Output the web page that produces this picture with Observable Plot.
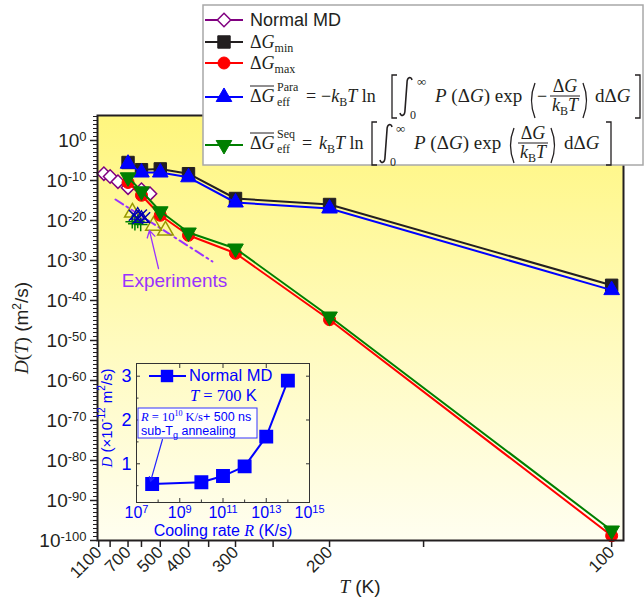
<!DOCTYPE html>
<html><head><meta charset="utf-8">
<script src="https://cdn.jsdelivr.net/npm/d3@7"></script>
<script src="https://cdn.jsdelivr.net/npm/@observablehq/plot@0.6"></script>
<style>
body{margin:0;background:#fff;}
#wrap{position:relative;width:644px;height:604px;overflow:hidden;}
#wrap svg{position:absolute;}
</style></head><body><div id="wrap"></div>
<script>
// ---------- data (log10 of D in m^2/s) ----------
const temps = [700, 600, 500, 400, 300, 200, 100];
const logD_Gmin = [-5.5, -7.3, -7.1, -8.3, -14.5, -16.0, -36.2];
const logD_Gmax = [-10.5, -13.7, -18.7, -23.7, -28.2, -44.8, -98.8];
const logD_Para = [-5.8, -8.0, -8.0, -9.2, -15.5, -17.0, -37.4];
const logD_Seq  = [-9.2, -12.7, -17.7, -23.0, -27.0, -44.0, -97.5];
const mdTemps = [1000, 900, 800, 700, 600, 550];
const logD_MD = [-8.3, -9.0, -10.3, -11.8, -12.3, -13.3];
const expTriT = [664, 532, 478];
const expTriLogD = [-18.0, -21.3, -22.5];
const expCrossT = [650, 625, 600, 580];
const expCrossLogD = [-18.7, -19.5, -18.6, -19.3];
const expPlusT = [665, 645, 625, 605];
const expPlusLogD = [-20.3, -20.8, -20.2, -21.0];
const fitT = [829, 342];
const fitLogD = [-14.75, -30.25];
const expLabel = {T: 444, logD: -35, text: "Experiments"};
const expArrow = {T1: 508, logD1: -32, T2: 553, logD2: -22.5};
const xTickT = [1100, 900, 700, 600, 500, 400, 350, 300, 250, 200, 150, 100];
const xLabelT = [1100, 700, 500, 400, 300, 200, 100];
const yMajorExp = [0, -10, -20, -30, -40, -50, -60, -70, -80, -90, -100];
// inset
const insetR = [5.3e7, 1e10, 1e11, 1e12, 1e13, 1e14];
const insetD = [0.54, 0.58, 0.72, 0.94, 1.62, 2.90];
const insetXTicks = [1e7, 1e9, 1e11, 1e13, 1e15];
const insetXMinor = [1e8, 1e10, 1e12, 1e14];
const insetYTicks = [1, 2, 3];
const insetYMinor = [0.5, 1.5, 2.5];
const insetArrow = {R1: 10 ** 8.2, D1: 1.555, R2: 10 ** 7.65, D2: 0.6};

// ---------- helpers ----------
const SANS = "Liberation Sans, Arial, sans-serif";
const SERIF = "Liberation Serif, Times New Roman, serif";
const inv = T => 1000 / T;
const pts = (Ts, logs) => Ts.map((T, i) => ({x: inv(T), y: 10 ** logs[i]}));
const triangleDown = {
  draw(ctx, size) {
    const y = -Math.sqrt(size / (Math.sqrt(3) * 3));
    ctx.moveTo(0, -y * 2);
    ctx.lineTo(-Math.sqrt(3) * y, y);
    ctx.lineTo(Math.sqrt(3) * y, y);
    ctx.closePath();
  }
};
const series = [
  {vals: pts(mdTemps, logD_MD), color: "#800080", symbol: "diamond2", r: 6, fill: "white", sw: 1.5},
  {vals: pts(temps, logD_Gmin), color: "#231f20", symbol: "square", r: 7, fill: "#231f20", sw: 1},
  {vals: pts(temps, logD_Gmax), color: "#ff0000", symbol: "circle", r: 6, fill: "#ff0000", sw: 1},
  {vals: pts(temps, logD_Para), color: "#0000ff", symbol: "triangle", r: 5.8, fill: "#0000ff", sw: 1},
  {vals: pts(temps, logD_Seq), color: "#007f00", symbol: triangleDown, r: 5.8, fill: "#007f00", sw: 1}
];

const marks = [
  Plot.frame({fill: "url(#bgGrad)"}),
  Plot.axisX({ticks: xTickT.map(inv), tickFormat: v => { const T = Math.round(1000 / v); return xLabelT.includes(T) ? String(T) : ""; },
    tickRotate: -45, tickSize: 7, tickPadding: 2, fontSize: 17, label: null, strokeWidth: 1.5, color: "#231f20"}),
  Plot.axisY({ticks: yMajorExp.map(e => 10 ** e), tickFormat: v => "10^" + Math.round(Math.log10(v)),
    tickSize: 7, tickPadding: 4, fontSize: 19, label: null, strokeWidth: 1.5, color: "#231f20"}),
  Plot.axisY({ticks: d3.range(-100, 7).map(e => 10 ** e), tickFormat: () => "", tickSize: 4, label: null, strokeWidth: 1, color: "#231f20"}),
  // experiments
  Plot.line(pts(fitT, fitLogD), {x: "x", y: "y", stroke: "#9933ff", strokeWidth: 2, strokeDasharray: "9,4,2,4"}),
  Plot.dot(pts(expTriT, expTriLogD), {x: "x", y: "y", symbol: "triangle", r: 5.8, stroke: "#999900", strokeWidth: 1.5, fill: "none"}),
  Plot.dot(pts(expPlusT, expPlusLogD), {x: "x", y: "y", symbol: "plus", r: 4.5, stroke: "#007f00", strokeWidth: 1.5}),
  Plot.dot(pts(expCrossT, expCrossLogD), {x: "x", y: "y", symbol: "times", r: 5, stroke: "#0000b0", strokeWidth: 1.5}),
  Plot.dot(pts(expCrossT.slice(1, 3), expCrossLogD.slice(0, 2)), {x: "x", y: "y", symbol: "triangle", r: 5, stroke: "#0000b0", strokeWidth: 1.3, fill: "none"}),
];
for (const s of series) {
  marks.push(Plot.line(s.vals, {x: "x", y: "y", stroke: s.color, strokeWidth: 2}));
  marks.push(Plot.dot(s.vals, {x: "x", y: "y", symbol: s.symbol, r: s.r, fill: s.fill, stroke: s.color, strokeWidth: s.sw}));
}
marks.push(
  Plot.text([expLabel], {x: d => inv(d.T), y: d => 10 ** d.logD, text: "text", fill: "#9933ff", fontSize: 19, fontFamily: SANS}),
  Plot.arrow([expArrow], {x1: d => inv(d.T1), y1: d => 10 ** d.logD1, x2: d => inv(d.T2), y2: d => 10 ** d.logD2,
    stroke: "#9933ff", strokeWidth: 1.3, headLength: 9}),
  Plot.frame({stroke: "#231f20", strokeWidth: 2})
);

const svg = Plot.plot({
  width: 644, height: 604,
  marginLeft: 97, marginRight: 21, marginTop: 115, marginBottom: 64,
  style: {background: "white", fontFamily: SANS, fontSize: "16px", color: "#231f20", overflow: "visible"},
  x: {domain: [1000 / 1127, 10.21]},
  y: {type: "log", domain: [1e-100, 10 ** 6.25]},
  marks
});
document.getElementById("wrap").appendChild(svg);

function supify(root, label, supSize) {
  d3.select(root).selectAll(`g[aria-label="${label}"] text`).each(function () {
    const s = this.textContent;
    if (!s.includes("^")) return;
    const [b, e] = s.split("^");
    this.textContent = "";
    d3.select(this).append("tspan").text(b);
    d3.select(this).append("tspan").attr("dy", "-0.45em").attr("font-size", supSize).text(e);
  });
}
supify(svg, "y-axis tick label", "13px");

// gradient background
const defs = d3.select(svg).insert("defs", ":first-child");
const grad = defs.append("linearGradient").attr("id", "bgGrad").attr("x1", 0).attr("y1", 0).attr("x2", 0).attr("y2", 1);
grad.append("stop").attr("offset", "0%").attr("stop-color", "#fff67e");
grad.append("stop").attr("offset", "55%").attr("stop-color", "#fffbc0");
grad.append("stop").attr("offset", "100%").attr("stop-color", "#fffef0");

function rich(g, x, y, segs, o = {}) {
  const t = g.append("text").attr("x", x).attr("y", y).attr("font-family", o.f || SERIF)
    .attr("font-size", o.s || 18).attr("fill", o.c || "#231f20").attr("text-anchor", o.a || "start");
  if (o.rot) t.attr("transform", `rotate(${o.rot},${x},${y})`);
  let cur = 0;
  for (const s of segs) {
    const shift = s.sub ? (s.sh || 5) : s.sup ? -(s.sh || 7) : 0;
    const sp = t.append("tspan").attr("dy", shift - cur).text(s.t);
    cur = shift;
    if (s.i) sp.attr("font-style", "italic");
    if (s.sub || s.sup) sp.attr("font-size", s.fs || 12);
    if (s.f) sp.attr("font-family", s.f);
    if (s.dx) sp.attr("dx", s.dx);
  }
  return t;
}

const root = d3.select(svg);
// axis titles
rich(root, 360, 593, [{t: "T", i: 1}, {t: " (K)", f: SANS}], {a: "middle", s: 19});
rich(root, 28, 328, [{t: "D", i: 1}, {t: "("}, {t: "T", i: 1}, {t: ")"}, {t: " (m", f: SANS}, {t: "2", sup: 1, f: SANS, fs: 12}, {t: "/s)", f: SANS}], {a: "middle", s: 19, rot: -90});

// ---------- legend ----------
const lg = root.append("g");
lg.append("rect").attr("x", 203).attr("y", 5).attr("width", 440).attr("height", 160)
  .attr("fill", "white").attr("stroke", "#a8a8a8").attr("stroke-width", 1.5);
const entries = [
  {y: 20, s: series[0]}, {y: 42, s: series[1]}, {y: 63, s: series[2]}, {y: 97, s: series[3]}, {y: 145, s: series[4]}
];
for (const e of entries) {
  lg.append("line").attr("x1", 205).attr("x2", 243).attr("y1", e.y).attr("y2", e.y).attr("stroke", e.s.color).attr("stroke-width", 2);
  const sym = typeof e.s.symbol === "string"
    ? {square: d3.symbolSquare, circle: d3.symbolCircle, triangle: d3.symbolTriangle, diamond2: d3.symbolDiamond2}[e.s.symbol]
    : e.s.symbol;
  lg.append("path").attr("d", d3.symbol(sym, Math.PI * e.s.r * e.s.r)())
    .attr("transform", `translate(224,${e.y})`).attr("fill", e.s.fill).attr("stroke", e.s.color).attr("stroke-width", e.s.sw);
}
rich(lg, 250, 26, [{t: "Normal MD"}], {f: SANS, s: 18});
rich(lg, 250, 48, [{t: "Δ"}, {t: "G", i: 1}, {t: "min", sub: 1, fs: 12, sh: 4}]);
rich(lg, 250, 69, [{t: "Δ"}, {t: "G", i: 1}, {t: "max", sub: 1, fs: 12, sh: 4}]);

function effTerm(B, supTxt) {
  lg.append("line").attr("x1", 250).attr("x2", 274).attr("y1", B - 16).attr("y2", B - 16).attr("stroke", "#231f20").attr("stroke-width", 1);
  rich(lg, 250, B, [{t: "Δ"}, {t: "G", i: 1}]);
  rich(lg, 277, B - 11, [{t: supTxt}], {s: 12});
  rich(lg, 277, B + 4, [{t: "eff"}], {s: 12});
}
function bracket(x, y0, y1, left) {
  const w = left ? 5 : -5;
  lg.append("path").attr("d", `M${x + w},${y0}H${x}V${y1}H${x + w}`).attr("fill", "none").attr("stroke", "#231f20").attr("stroke-width", 1.3);
}
function integral(x, y0, y1) {
  lg.append("path").attr("d", `M${x + 12},${y0 + 3} C${x + 11},${y0 - 1} ${x + 7},${y0} ${x + 7},${y0 + 6} L${x + 5},${y1 - 6} C${x + 5},${y1} ${x + 1},${y1 + 1} ${x},${y1 - 3}`)
    .attr("fill", "none").attr("stroke", "#231f20").attr("stroke-width", 1.6);
}
function paren(x, y0, y1, left) {
  const c = left ? x - 7 : x + 7;
  lg.append("path").attr("d", `M${x},${y0} Q${c},${(y0 + y1) / 2} ${x},${y1}`).attr("fill", "none").attr("stroke", "#231f20").attr("stroke-width", 1.3);
}
function frac(cx, barY, x0, x1) {
  rich(lg, cx, barY - 4, [{t: "Δ"}, {t: "G", i: 1}], {a: "middle"});
  lg.append("line").attr("x1", x0).attr("x2", x1).attr("y1", barY).attr("y2", barY).attr("stroke", "#231f20").attr("stroke-width", 1);
  rich(lg, cx, barY + 15, [{t: "k", i: 1}, {t: "B", sub: 1, fs: 12, sh: 4}, {t: "T", i: 1}], {a: "middle"});
}
// Para line
{
  const B = 102;
  effTerm(B, "Para");
  rich(lg, 306, B, [{t: "="}]);
  rich(lg, 321, B, [{t: "−"}, {t: "k", i: 1}, {t: "B", sub: 1, fs: 12, sh: 4}, {t: "T", i: 1}, {t: " ln"}]);
  bracket(392, 75, 118, true);
  integral(400, 77, 116);
  rich(lg, 417, 86, [{t: "∞"}], {s: 13});
  rich(lg, 410, 119, [{t: "0"}], {s: 12});
  rich(lg, 435, B, [{t: "P", i: 1}, {t: " (Δ"}, {t: "G", i: 1}, {t: ") exp"}], {s: 19});
  paren(535, 83, 118, true);
  rich(lg, 537, B, [{t: "−"}]);
  frac(565, 96, 550, 580);
  paren(583, 83, 118, false);
  rich(lg, 595, B, [{t: "dΔ"}, {t: "G", i: 1}], {s: 19});
  bracket(640, 75, 118, false);
}
// Seq line
{
  const B = 149;
  effTerm(B, "Seq");
  rich(lg, 302, B, [{t: "="}]);
  rich(lg, 319, B, [{t: "k", i: 1}, {t: "B", sub: 1, fs: 12, sh: 4}, {t: "T", i: 1}, {t: " ln"}]);
  bracket(372, 122, 165, true);
  integral(380, 124, 163);
  rich(lg, 396, 133, [{t: "∞"}], {s: 13});
  rich(lg, 390, 166, [{t: "0"}], {s: 12});
  rich(lg, 414, B, [{t: "P", i: 1}, {t: " (Δ"}, {t: "G", i: 1}, {t: ") exp"}], {s: 19});
  paren(514, 128, 163, true);
  frac(533, 143, 518, 548);
  paren(551, 128, 163, false);
  rich(lg, 564, B, [{t: "dΔ"}, {t: "G", i: 1}], {s: 19});
  bracket(611, 122, 165, false);
}

// ---------- inset ----------
const BLUE = "#0000ff";
const insetData = insetR.map((R, i) => ({R, D: insetD[i]}));
const inset = Plot.plot({
  width: 230, height: 200,
  marginLeft: 36, marginRight: 21, marginTop: 18, marginBottom: 43,
  style: {background: "transparent", fontFamily: SANS, fontSize: "15px", color: BLUE, overflow: "visible"},
  x: {type: "log", domain: [1e7, 1e15]},
  y: {domain: [0.116, 3.29]},
  marks: [
    Plot.axisX({ticks: insetXTicks, tickSize: -4, tickFormat: () => "", label: null, color: "#333", strokeWidth: 1}),
    Plot.axisX({ticks: insetXMinor, tickSize: -2.5, tickFormat: () => "", label: null, color: "#333", strokeWidth: 1}),
    Plot.axisX({anchor: "top", ticks: insetXTicks, tickSize: -4, tickFormat: () => "", label: null, color: "#333", strokeWidth: 1}),
    Plot.axisX({ticks: insetXTicks, tickSize: 0, tickPadding: 4, tickFormat: v => "10^" + Math.round(Math.log10(v)), label: null, color: BLUE, fontSize: 16}),
    Plot.axisY({ticks: insetYTicks, tickSize: -4, tickFormat: () => "", label: null, color: "#333", strokeWidth: 1}),
    Plot.axisY({ticks: insetYMinor, tickSize: -2.5, tickFormat: () => "", label: null, color: "#333", strokeWidth: 1}),
    Plot.axisY({anchor: "right", ticks: insetYTicks, tickSize: -4, tickFormat: () => "", label: null, color: "#333", strokeWidth: 1}),
    Plot.axisY({ticks: insetYTicks, tickSize: 0, tickPadding: 5, tickFormat: d => String(d), label: null, color: BLUE, fontSize: 18}),
    Plot.frame({stroke: "#333", strokeWidth: 1}),
    Plot.line(insetData, {x: "R", y: "D", stroke: BLUE, strokeWidth: 2}),
    Plot.dot(insetData, {x: "R", y: "D", symbol: "square", r: 7, fill: BLUE, stroke: BLUE}),
    Plot.arrow([insetArrow], {x1: "R1", y1: "D1", x2: "R2", y2: "D2", stroke: "#2222ff", strokeWidth: 1.2, headLength: 6}),
  ]
});
inset.style.left = "100px";
inset.style.top = "345px";
document.getElementById("wrap").appendChild(inset);
supify(inset, "x-axis tick label", "11px");

const ig = d3.select(inset).append("g").attr("transform", "translate(-100,-345)");
// inset legend
ig.append("line").attr("x1", 149).attr("x2", 186).attr("y1", 376).attr("y2", 376).attr("stroke", BLUE).attr("stroke-width", 2);
ig.append("path").attr("d", d3.symbol(d3.symbolSquare, Math.PI * 49)()).attr("transform", "translate(167,376)").attr("fill", BLUE);
rich(ig, 189, 381, [{t: "Normal MD"}], {f: SANS, s: 16.5, c: BLUE});
rich(ig, 190, 401, [{t: "T", i: 1}, {t: " = 700 "}, {t: "K", f: SANS}], {s: 16.5, c: BLUE});
// annotation
ig.append("rect").attr("x", 138).attr("y", 408).attr("width", 119).attr("height", 30).attr("fill", "white").attr("fill-opacity", 0.9).attr("stroke", "#3333ff").attr("stroke-width", 1);
rich(ig, 141, 421, [{t: "R", i: 1}, {t: " = 10"}, {t: "10", sup: 1, fs: 8, sh: 5}, {t: " K/s"}, {t: "+ 500 ns", f: SANS}], {s: 12.5, c: BLUE});
rich(ig, 141, 435, [{t: "sub-"}, {t: "T"}, {t: "g", sub: 1, fs: 9, sh: 3}, {t: " annealing"}], {s: 12.5, c: BLUE, f: SANS});
rich(ig, 223, 536, [{t: "Cooling rate ", f: SANS}, {t: "R", i: 1}, {t: " (K/s)", f: SANS}], {s: 16, c: BLUE, a: "middle"});
rich(ig, 112, 418, [{t: "D", i: 1}, {t: " (×10", f: SANS}, {t: "-12", sup: 1, f: SANS, fs: 10}, {t: " m", f: SANS}, {t: "2", sup: 1, f: SANS, fs: 10}, {t: "/s)", f: SANS}], {s: 15, c: BLUE, a: "middle", rot: -90});
</script>
</body></html>
